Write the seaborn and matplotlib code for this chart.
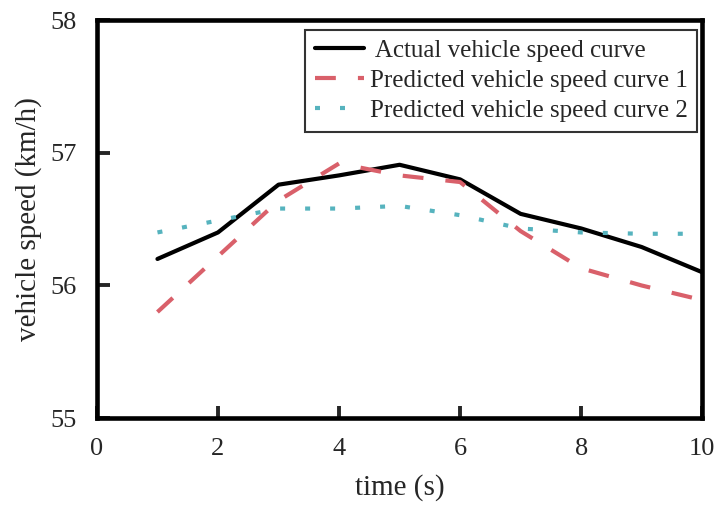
import matplotlib
matplotlib.use("Agg")
import matplotlib.pyplot as plt
import seaborn as sns
import pandas as pd

time_s = [1, 2, 3, 4, 5, 6, 7, 8, 9, 10]
actual_speed = [56.20, 56.40, 56.76, 56.83, 56.91, 56.80, 56.54, 56.43, 56.29, 56.10]
predicted_speed_1 = [55.80, 56.22, 56.64, 56.92, 56.83, 56.78, 56.41, 56.13, 56.00, 55.89]
predicted_speed_2 = [56.40, 56.49, 56.58, 56.58, 56.60, 56.53, 56.43, 56.40, 56.39, 56.39]

series_labels = [" Actual vehicle speed curve",
                 "Predicted vehicle speed curve 1",
                 "Predicted vehicle speed curve 2"]
x_ticks = [0, 2, 4, 6, 8, 10]
y_ticks = [55, 56, 57, 58]

sns.set_style("ticks")
plt.rcParams["font.family"] = ["Liberation Serif", "DejaVu Serif"]

df = pd.DataFrame({
    "time": time_s * 3,
    "speed": actual_speed + predicted_speed_1 + predicted_speed_2,
    "series": [series_labels[0]] * len(time_s)
              + [series_labels[1]] * len(time_s)
              + [series_labels[2]] * len(time_s),
})

fig = plt.figure(figsize=(7.18, 5.05), dpi=100)
ax = fig.add_axes([0.135, 0.172, 0.843, 0.788])

palette = {series_labels[0]: "#000000",
           series_labels[1]: "#d9606a",
           series_labels[2]: "#56b3be"}
dash_map = {series_labels[0]: "",
            series_labels[1]: (5, 5.3),
            series_labels[2]: (1.2, 4.8)}

sns.lineplot(data=df, x="time", y="speed", hue="series", style="series",
             palette=palette, dashes=dash_map, linewidth=3, ax=ax,
             hue_order=series_labels, style_order=series_labels, legend=False)

handles = []
for lbl in series_labels:
    ls = "-" if dash_map[lbl] == "" else (0, dash_map[lbl])
    h, = ax.plot([], [], color=palette[lbl], linewidth=3, linestyle=ls)
    handles.append(h)

leg = ax.legend(handles, series_labels, loc="upper right",
                bbox_to_anchor=(0.992, 0.975), borderaxespad=0,
                fontsize=18, frameon=True, fancybox=False, edgecolor="black",
                handlelength=1.95, handletextpad=0.25,
                labelspacing=0.3, borderpad=0.38)
leg.get_frame().set_linewidth(1.5)

ax.set_xlim(0, 10)
ax.set_ylim(55, 58)
ax.set_xticks(x_ticks)
ax.set_yticks(y_ticks)
ax.set_xlabel("time (s)", fontsize=21, labelpad=10)
ax.set_ylabel("vehicle speed (km/h)", fontsize=21, labelpad=6)
ax.tick_params(direction="in", length=9, width=2.8, labelsize=19, pad=14.5)
for side in ["left", "right", "top", "bottom"]:
    ax.spines[side].set_visible(True)
    ax.spines[side].set_linewidth(3.3)
    ax.spines[side].set_color("black")

fig.savefig("out.png", dpi=100)
